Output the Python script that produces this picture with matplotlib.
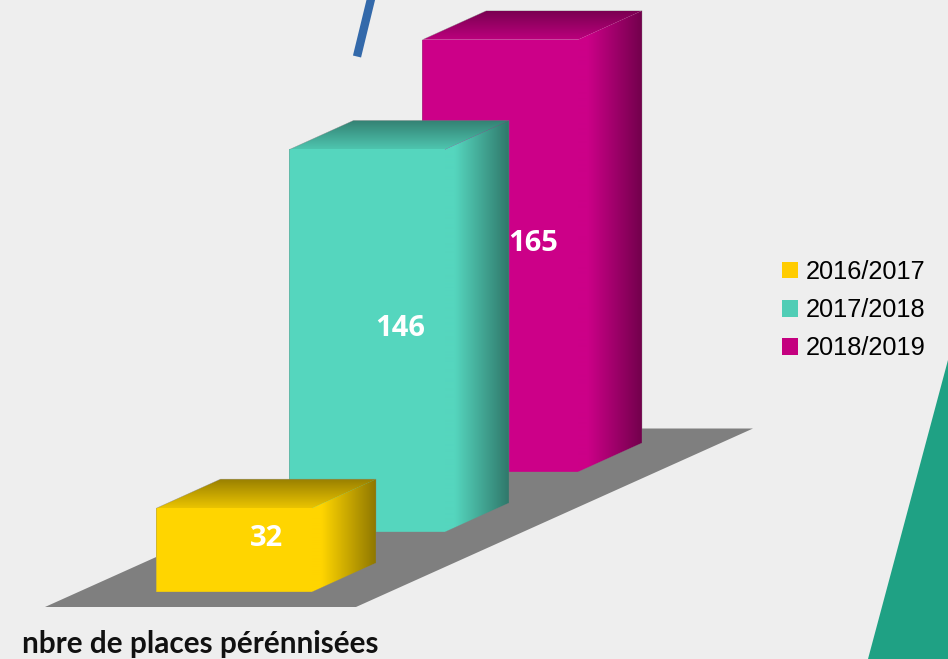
"""3D style column chart: nbre de places pérénnisées"""

import numpy as np
import matplotlib
matplotlib.use("Agg")
import matplotlib.pyplot as plt
from matplotlib.patches import Polygon, Patch

seasons = ["2016/2017", "2017/2018", "2018/2019"]
places = [32, 146, 165]
bar_colors = ["#FFD500", "#55D6BE", "#CC0088"]
legend_colors = ["#FFCC00", "#4FCDB5", "#C4007F"]
title = "nbre de places pérénnisées"

BG = "#EEEEEE"
# oblique projection, all in pixels of the 948x659 picture
X0, Y0 = 156.5, 592
STEP_X, STEP_Y = 133, -60
W, DX, DY = 155.5, 64, -29
PX_PER_PLACE = 2.62


def gradient(ax, pts, c0, c1, stops, vertical, zorder):
    """fill the polygon pts with a gradient clipped to it"""
    pts = np.array(pts)
    t = np.linspace(0, 1, 256)
    f = np.interp(t, stops[0], stops[1])[:, None]
    rgb = np.array(c0) * (1 - f) + np.array(c1) * f
    img = rgb[:, None, :] if vertical else rgb[None, :, :]
    im = ax.imshow(img, extent=(pts[:, 0].min(), pts[:, 0].max(), pts[:, 1].max(), pts[:, 1].min()),
                   origin="upper", aspect="auto", zorder=zorder, interpolation="bilinear")
    clip = Polygon(pts, closed=True, transform=ax.transData)
    im.set_clip_path(clip)


def bar3d(ax, i, value, color, zorder):
    base = np.array(matplotlib.colors.to_rgb(color))
    x = X0 + i * STEP_X
    bot = Y0 + i * STEP_Y
    top = bot - value * PX_PER_PLACE
    # front
    ax.add_patch(Polygon([(x, bot), (x + W, bot), (x + W, top), (x, top)], fc=color, ec="none", zorder=zorder))
    # top face: dark at the back
    gradient(ax, [(x, top), (x + W, top), (x + W + DX, top + DY), (x + DX, top + DY)],
             base * 0.6, base * 0.92, ([0, 1], [0, 1]), True, zorder)
    # side face: dark at the right
    gradient(ax, [(x + W, bot), (x + W + DX, bot + DY), (x + W + DX, top + DY), (x + W, top)],
             base, base * 0.56, ([0, 0.15, 1], [0, 0, 1]), False, zorder + 0.1)
    # thin grey outline
    ax.add_patch(Polygon([(x, bot), (x + W, bot), (x + W + DX, bot + DY), (x + W + DX, top + DY),
                          (x + DX, top + DY), (x, top)], fc="none", ec="#808080", lw=0.4, alpha=0.6,
                         zorder=zorder + 0.2))
    ax.text(x + (W + DX) / 2 + 0.5, (bot + top + DY) / 2 + 2.5, str(value), color="white", fontsize=21,
            fontweight="bold", family="Open Sans", ha="center", va="center", zorder=20)


def main():
    fig = plt.figure(figsize=(9.48, 6.59), dpi=100, facecolor=BG)
    ax = fig.add_axes([0, 0, 1, 1])
    ax.set_facecolor(BG)
    ax.axis("off")

    # page decorations
    ax.plot([371, 357], [-1, 56.5], color="#3369AA", lw=6, solid_capstyle="butt", zorder=1)
    ax.add_patch(Polygon([(948, 360), (948, 659), (868, 659)], fc="#1FA184", ec="none", zorder=1))

    # floor
    ax.add_patch(Polygon([(45, 607), (356, 607), (753, 428.5), (442, 428.5)], fc="#7F7F7F", ec="none", zorder=2))

    for i in range(len(places) - 1, -1, -1):
        bar3d(ax, i, places[i], bar_colors[i], 5 + (2 - i) * 2)

    ax.text(22, 644, title, fontsize=21.4, fontweight="bold", family="Lato", color="#111111",
            ha="left", va="center", zorder=20)

    handles = [Patch(fc=c, ec="none") for c in legend_colors]
    ax.legend(handles, seasons, loc="upper left", bbox_to_anchor=(782, 260), bbox_transform=ax.transData,
              frameon=False, borderpad=0, borderaxespad=0, handlelength=0.63, handleheight=0.63,
              handletextpad=0.31, labelspacing=0.56, prop={"family": "Liberation Sans", "size": 18.3})

    ax.set_xlim(0, 948)
    ax.set_ylim(659, 0)
    fig.savefig("out.png", dpi=100, facecolor=BG)


main()
